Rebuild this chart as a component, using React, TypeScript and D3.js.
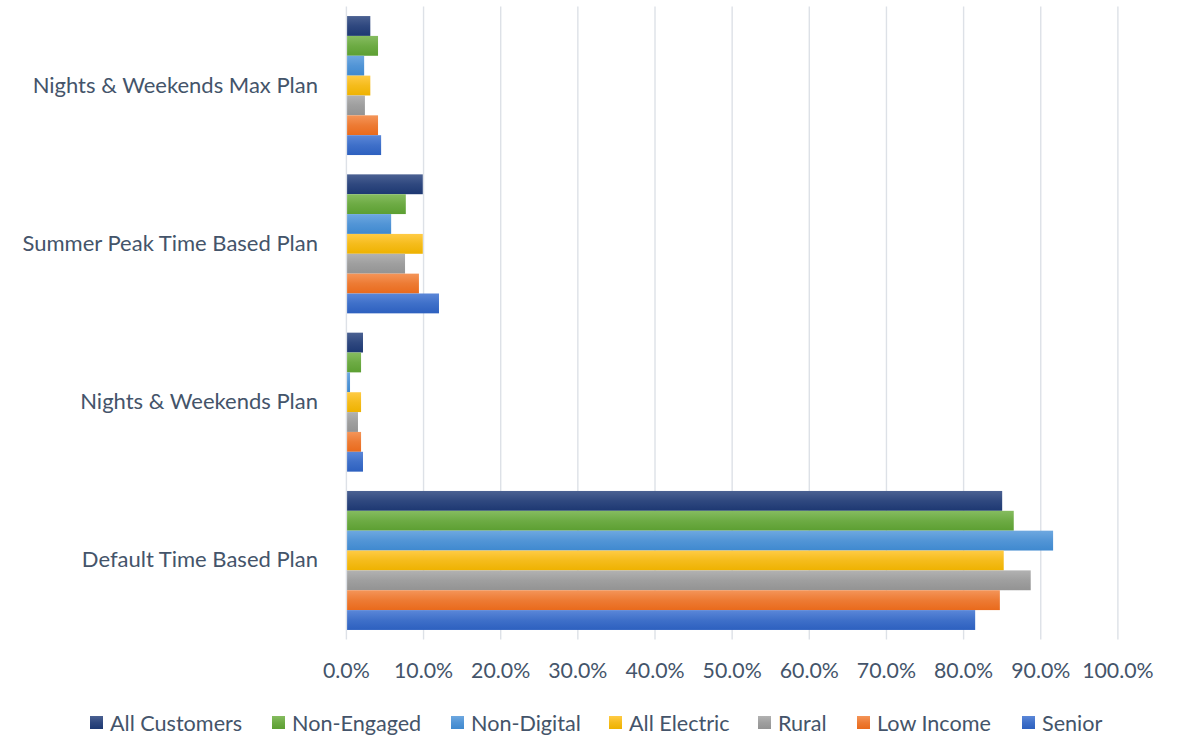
import React from "react";
import * as d3 from "d3";

const categories = [
  "Nights & Weekends Max Plan",
  "Summer Peak Time Based Plan",
  "Nights & Weekends Plan",
  "Default Time Based Plan",
];
const seriesNames = [
  "All Customers",
  "Non-Engaged",
  "Non-Digital",
  "All Electric",
  "Rural",
  "Low Income",
  "Senior",
];
const allCustomers = [3.1, 9.9, 2.15, 85.0];
const nonEngaged = [4.1, 7.7, 1.9, 86.5];
const nonDigital = [2.3, 5.8, 0.47, 91.6];
const allElectric = [3.1, 9.9, 1.9, 85.2];
const rural = [2.4, 7.6, 1.5, 88.7];
const lowIncome = [4.1, 9.4, 1.9, 84.7];
const senior = [4.5, 12.0, 2.15, 81.5];
const seriesValues = [allCustomers, nonEngaged, nonDigital, allElectric, rural, lowIncome, senior];
const xTicks = [0, 10, 20, 30, 40, 50, 60, 70, 80, 90, 100];

const colorTop = ["#4b6192", "#86bc60", "#6ea8e0", "#ffcb45", "#b2b2b2", "#f49559", "#5b87d8"];
const colorBottom = ["#1d3872", "#5c9f32", "#3f89cf", "#eeb200", "#939393", "#e96a1c", "#2d60bf"];

const W = 1183;
const H = 738;
const plotLeft = 346.4;
const plotRight = 1117.9;
const plotTop = 6.4;
const plotBottom = 639.6;
const textColor = "#44546a";
const font = "Lato, 'Open Sans', sans-serif";

export default function App() {
  const x = d3.scaleLinear().domain([0, 100]).range([plotLeft, plotRight]);
  const y0 = d3.scaleBand<string>().domain(categories).range([plotTop, plotBottom]).paddingInner(0.122).paddingOuter(0.061);
  const y1 = d3.scaleBand<string>().domain(seriesNames).range([0, y0.bandwidth()]);

  const legendX = [90, 272, 451, 609, 758, 857, 1022];

  return (
    <svg width={W} height={H} style={{ position: "absolute", left: 0, top: 0, background: "#fff" }} fontFamily={font}>
      <defs>
        {seriesNames.map((s, i) => (
          <linearGradient key={s} id={`g${i}`} x1="0" y1="0" x2="0" y2="1">
            <stop offset="0" stopColor={colorTop[i]} />
            <stop offset="0.5" stopColor={d3.interpolateRgb(colorTop[i], colorBottom[i])(0.6)} />
            <stop offset="1" stopColor={colorBottom[i]} />
          </linearGradient>
        ))}
      </defs>
      {xTicks.map((t) => (
        <line key={t} x1={x(t)} x2={x(t)} y1={plotTop} y2={plotBottom} stroke="#dde1e7" strokeWidth={1.4} />
      ))}
      {categories.map((c, ci) => (
        <g key={c} transform={`translate(0,${y0(c)})`}>
          {seriesNames.map((s, si) => (
            <rect
              key={s}
              x={x(0) + 0.7}
              y={y1(s)}
              width={x(seriesValues[si][ci]) - x(0) - 0.7}
              height={y1.bandwidth()}
              fill={`url(#g${si})`}
            />
          ))}
        </g>
      ))}
      {categories.map((c) => (
        <text
          key={c}
          x={318}
          y={(y0(c) as number) + y0.bandwidth() / 2 - 1.5}
          textAnchor="end"
          dominantBaseline="central"
          fontSize={22}
          fill={textColor}
        >
          {c}
        </text>
      ))}
      {xTicks.map((t) => (
        <text key={t} x={x(t)} y={670} textAnchor="middle" dominantBaseline="central" fontSize={21.3} fill={textColor}>
          {d3.format(".1f")(t) + "%"}
        </text>
      ))}
      {seriesNames.map((s, i) => (
        <g key={s} transform={`translate(${legendX[i]},0)`}>
          <rect x={0} y={716} width={13} height={13} fill={`url(#g${i})`} />
          <text x={20} y={723} dominantBaseline="central" fontSize={21.6} fill={textColor}>
            {s}
          </text>
        </g>
      ))}
    </svg>
  );
}
